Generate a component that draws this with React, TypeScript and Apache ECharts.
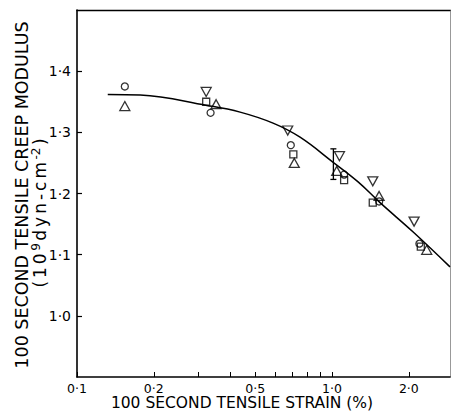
import React, { useEffect, useRef } from "react";
import * as echarts from "echarts";

const xTickValues = [0.1, 0.2, 0.3, 0.4, 0.5, 0.6, 0.7, 0.8, 0.9, 1, 2];
const xLabelValues = [0.1, 0.2, 0.5, 1, 2];
const yLabelValues = [1.0, 1.1, 1.2, 1.3, 1.4];

const circles = [
  [0.154, 1.375], [0.334, 1.332], [0.689, 1.279], [1.115, 1.231], [1.53, 1.187], [2.2, 1.118],
];
const upTriangles = [
  [0.154, 1.343], [0.351, 1.346], [0.711, 1.25], [1.043, 1.237], [1.529, 1.196], [2.35, 1.108],
];
const squares = [
  [0.321, 1.35], [0.705, 1.264], [1.115, 1.222], [1.444, 1.185], [2.228, 1.113],
];
const downTriangles = [
  [0.321, 1.366], [0.67, 1.303], [1.069, 1.261], [1.444, 1.22], [2.097, 1.154],
];
const errorBars = [[1.012, 1.223, 1.273]];

const curveX = [0.132, 0.177, 0.323, 0.436, 0.587, 0.749, 1.01, 1.265, 1.542, 2.08, 2.9];
const curveY = [1.362, 1.361, 1.344, 1.333, 1.315, 1.292, 1.251, 1.219, 1.185, 1.137, 1.08];

const yTitle = "100 SECOND TENSILE CREEP MODULUS";
const yUnitParts: [string, string][] = [
  ["a", "("], ["a", "1"], ["a", "0"], ["sup", "9"], ["a", "d"], ["a", "y"], ["a", "n"],
  ["a", "-"], ["a", "c"], ["a", "m"], ["sup", "-2"], ["a", ")"],
];
const xTitle = "100 SECOND TENSILE STRAIN (%)";

const fmt = (v: number) => (v < 10 ? v.toFixed(1) : String(v)).replace(".", "·");
const FONT = "DejaVu Sans";

export default function App() {
  const ref = useRef<HTMLDivElement>(null);
  useEffect(() => {
    if (!ref.current) return;
    const chart = echarts.init(ref.current, null, { renderer: "svg" });
    const markerStyle = { color: "rgba(0,0,0,0)", borderColor: "#000", borderWidth: 1.3 };
    chart.setOption({
      animation: false,
      backgroundColor: "#fff",
      grid: { left: 77, right: 2, top: 10, bottom: 43 },
      xAxis: [
        {
          type: "log",
          logBase: 10,
          min: 0.1,
          max: 2.9,
          axisLine: { show: true, lineStyle: { color: "#000", width: 1.6 } },
          axisTick: {
            show: true,
            inside: true,
            length: 5,
            customValues: xTickValues,
            lineStyle: { color: "#000", width: 1 },
          },
          axisLabel: {
            customValues: xLabelValues,
            formatter: (v: number) => fmt(v),
            color: "#000",
            fontFamily: FONT,
            fontSize: 12.5,
            lineHeight: 12,
            margin: 5,
          },
          splitLine: { show: false },
          minorTick: { show: false },
        },
        {
          type: "value",
          position: "top",
          min: 0,
          max: 1,
          axisLine: { show: true, onZero: false, lineStyle: { color: "#000", width: 1.4 } },
          axisTick: { show: false },
          axisLabel: { show: false },
          splitLine: { show: false },
        },
      ],
      yAxis: [
        {
          type: "value",
          min: 0.9,
          max: 1.5,
          axisLine: { show: true, lineStyle: { color: "#000", width: 1.6 } },
          axisTick: {
            show: true,
            inside: true,
            length: 5,
            customValues: yLabelValues,
            lineStyle: { color: "#000", width: 1.2 },
          },
          axisLabel: {
            customValues: yLabelValues,
            formatter: (v: number) => fmt(v),
            color: "#000",
            fontFamily: FONT,
            fontSize: 14,
            margin: 6,
          },
          splitLine: { show: false },
        },
        {
          type: "value",
          position: "right",
          min: 0,
          max: 1,
          axisLine: { show: true, onZero: false, lineStyle: { color: "#999", width: 1 } },
          axisTick: { show: false },
          axisLabel: { show: false },
          splitLine: { show: false },
        },
      ],
      graphic: [
        {
          type: "text",
          x: 21.5,
          y: 195,
          rotation: Math.PI / 2,
          style: {
            text: yTitle,
            fontFamily: FONT,
            fontSize: 17.5,
            fill: "#000",
            align: "center",
            verticalAlign: "middle",
          },
        },
        {
          type: "text",
          x: 40,
          y: 213,
          rotation: Math.PI / 2,
          style: {
            text: yUnitParts.map(([k, t]) => `{${k}|${t}}`).join(""),
            fontFamily: FONT,
            fontSize: 17,
            fill: "#000",
            align: "center",
            verticalAlign: "middle",
            rich: {
              a: { fontFamily: FONT, fontSize: 17, padding: [0, 1.5, 0, 1.5] },
              sup: { fontFamily: FONT, fontSize: 12, verticalAlign: "top", padding: [0, 1, 9, 1] },
            },
          },
        },
        {
          type: "text",
          x: 242,
          y: 403,
          style: {
            text: xTitle,
            fontFamily: FONT,
            fontSize: 15.5,
            lineHeight: 15,
            fill: "#000",
            align: "center",
            verticalAlign: "middle",
          },
        },
      ],
      series: [
        {
          type: "line",
          data: curveX.map((x, i) => [x, curveY[i]]),
          smooth: 0.4,
          showSymbol: false,
          lineStyle: { color: "#000", width: 1.5 },
          z: 1,
        },
        {
          type: "scatter",
          data: circles,
          symbol: "circle",
          symbolSize: 7,
          itemStyle: markerStyle,
          z: 3,
        },
        {
          type: "scatter",
          data: upTriangles,
          symbol: "triangle",
          symbolSize: [10, 9],
          itemStyle: markerStyle,
          z: 3,
        },
        {
          type: "scatter",
          data: squares,
          symbol: "rect",
          symbolSize: 7,
          itemStyle: markerStyle,
          z: 3,
        },
        {
          type: "scatter",
          data: downTriangles,
          symbol: "triangle",
          symbolRotate: 180,
          symbolSize: [10, 9],
          itemStyle: markerStyle,
          z: 3,
        },
        {
          type: "custom",
          data: errorBars,
          z: 4,
          renderItem: (params: any, api: any) => {
            const top = api.coord([api.value(0), api.value(2)]);
            const bot = api.coord([api.value(0), api.value(1)]);
            const hw = 3;
            const style = { stroke: "#000", lineWidth: 1.3 };
            return {
              type: "group",
              children: [
                { type: "line", shape: { x1: top[0], y1: top[1], x2: bot[0], y2: bot[1] }, style },
                { type: "line", shape: { x1: top[0] - hw, y1: top[1], x2: top[0] + hw, y2: top[1] }, style },
                { type: "line", shape: { x1: bot[0] - hw, y1: bot[1], x2: bot[0] + hw, y2: bot[1] }, style },
              ],
            };
          },
        },
      ],
    });
    return () => chart.dispose();
  }, []);
  return (
    <div
      ref={ref}
      style={{ position: "fixed", left: 0, top: 0, width: 452, height: 420, background: "#fff" }}
    />
  );
}
